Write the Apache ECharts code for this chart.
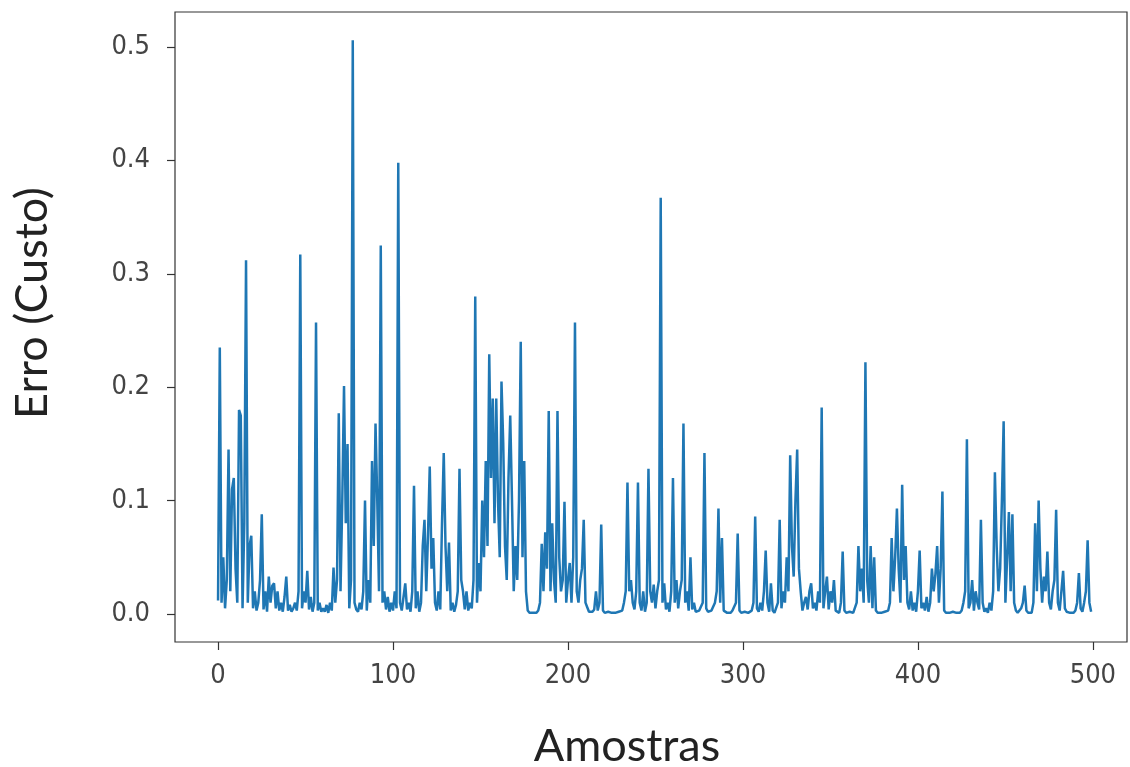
<!DOCTYPE html>
<html>
<head>
<meta charset="utf-8">
<script src="https://cdn.jsdelivr.net/npm/echarts@6/dist/echarts.min.js"></script>
<style>
  html, body { margin: 0; padding: 0; background: #fff; }
  #chart { width: 1130px; height: 767px; }
</style>
</head>
<body>
<div id="chart"></div>
<script>
// erro (custo) por amostra (500 amostras)
var erro = [
  0.012, 0.235, 0.010, 0.050, 0.005, 0.030, 0.145, 0.020, 0.110, 0.120, 0.040, 0.010, 0.180, 0.175, 0.005, 0.080, 0.312, 0.010, 0.060, 0.069,
  0.005, 0.020, 0.003, 0.010, 0.030, 0.088, 0.004, 0.020, 0.002, 0.033, 0.010, 0.025, 0.027, 0.005, 0.020, 0.003, 0.010, 0.002, 0.015, 0.033,
  0.003, 0.008, 0.002, 0.005, 0.010, 0.003, 0.020, 0.317, 0.005, 0.020, 0.010, 0.038, 0.004, 0.015, 0.002, 0.010, 0.257, 0.003, 0.010, 0.002,
  0.005, 0.002, 0.008, 0.001, 0.010, 0.003, 0.041, 0.010, 0.030, 0.177, 0.020, 0.100, 0.201, 0.080, 0.150, 0.005, 0.030, 0.506, 0.010, 0.004,
  0.002, 0.010, 0.004, 0.020, 0.100, 0.003, 0.030, 0.010, 0.135, 0.060, 0.168, 0.100, 0.020, 0.325, 0.010, 0.020, 0.004, 0.015, 0.002, 0.010,
  0.003, 0.020, 0.005, 0.398, 0.010, 0.003, 0.015, 0.027, 0.004, 0.010, 0.002, 0.020, 0.113, 0.005, 0.020, 0.002, 0.010, 0.060, 0.083, 0.020,
  0.070, 0.130, 0.040, 0.067, 0.010, 0.003, 0.020, 0.004, 0.080, 0.142, 0.060, 0.020, 0.063, 0.003, 0.010, 0.002, 0.008, 0.020, 0.128, 0.030,
  0.020, 0.004, 0.020, 0.003, 0.010, 0.005, 0.030, 0.280, 0.010, 0.045, 0.020, 0.100, 0.050, 0.135, 0.060, 0.229, 0.120, 0.190, 0.080, 0.190,
  0.100, 0.050, 0.205, 0.150, 0.060, 0.030, 0.120, 0.175, 0.100, 0.020, 0.060, 0.030, 0.100, 0.240, 0.050, 0.135, 0.020, 0.003, 0.001, 0.002,
  0.001, 0.002, 0.001, 0.003, 0.010, 0.062, 0.020, 0.072, 0.040, 0.179, 0.020, 0.080, 0.030, 0.010, 0.179, 0.050, 0.020, 0.030, 0.099, 0.010,
  0.030, 0.045, 0.010, 0.050, 0.257, 0.020, 0.010, 0.030, 0.040, 0.083, 0.010, 0.006, 0.002, 0.001, 0.002, 0.004, 0.020, 0.003, 0.010, 0.079,
  0.003, 0.001, 0.001, 0.002, 0.001, 0.001, 0.002, 0.001, 0.001, 0.002, 0.001, 0.003, 0.010, 0.020, 0.116, 0.020, 0.030, 0.010, 0.004, 0.020,
  0.116, 0.010, 0.003, 0.020, 0.002, 0.010, 0.128, 0.020, 0.010, 0.026, 0.005, 0.020, 0.030, 0.367, 0.010, 0.027, 0.004, 0.010, 0.002, 0.020,
  0.120, 0.010, 0.030, 0.005, 0.020, 0.030, 0.168, 0.010, 0.020, 0.003, 0.050, 0.004, 0.010, 0.002, 0.001, 0.003, 0.002, 0.010, 0.142, 0.005,
  0.002, 0.001, 0.003, 0.002, 0.010, 0.020, 0.093, 0.010, 0.067, 0.003, 0.002, 0.001, 0.002, 0.001, 0.003, 0.002, 0.010, 0.071, 0.003, 0.001,
  0.001, 0.002, 0.001, 0.001, 0.002, 0.003, 0.010, 0.086, 0.005, 0.002, 0.010, 0.003, 0.020, 0.056, 0.010, 0.002, 0.027, 0.003, 0.001, 0.002,
  0.010, 0.083, 0.005, 0.020, 0.010, 0.050, 0.020, 0.140, 0.060, 0.033, 0.100, 0.145, 0.040, 0.020, 0.003, 0.010, 0.015, 0.004, 0.020, 0.027,
  0.005, 0.010, 0.003, 0.020, 0.010, 0.182, 0.005, 0.020, 0.033, 0.004, 0.020, 0.010, 0.030, 0.003, 0.002, 0.001, 0.010, 0.055, 0.003, 0.001,
  0.001, 0.002, 0.001, 0.001, 0.002, 0.010, 0.060, 0.020, 0.040, 0.010, 0.222, 0.030, 0.010, 0.060, 0.005, 0.050, 0.003, 0.001, 0.002, 0.001,
  0.001, 0.002, 0.001, 0.003, 0.010, 0.067, 0.020, 0.050, 0.093, 0.040, 0.010, 0.114, 0.030, 0.060, 0.010, 0.004, 0.020, 0.003, 0.010, 0.002,
  0.020, 0.056, 0.005, 0.010, 0.003, 0.015, 0.002, 0.010, 0.040, 0.020, 0.035, 0.060, 0.010, 0.040, 0.108, 0.003, 0.001, 0.002, 0.001, 0.001,
  0.002, 0.001, 0.001, 0.002, 0.001, 0.003, 0.010, 0.020, 0.154, 0.005, 0.010, 0.030, 0.003, 0.020, 0.010, 0.004, 0.083, 0.010, 0.002, 0.005,
  0.001, 0.010, 0.003, 0.020, 0.125, 0.060, 0.020, 0.040, 0.100, 0.170, 0.010, 0.050, 0.090, 0.020, 0.088, 0.010, 0.003, 0.001, 0.002, 0.005,
  0.010, 0.025, 0.003, 0.001, 0.002, 0.001, 0.010, 0.080, 0.020, 0.100, 0.040, 0.010, 0.033, 0.020, 0.055, 0.010, 0.004, 0.020, 0.030, 0.092,
  0.010, 0.003, 0.020, 0.038, 0.005, 0.002, 0.001, 0.001, 0.002, 0.001, 0.003, 0.010, 0.036, 0.005, 0.002, 0.010, 0.020, 0.065, 0.010, 0.002
];
var xTicks = [0, 100, 200, 300, 400, 500];
var yTicks = [0.0, 0.1, 0.2, 0.3, 0.4, 0.5];

var pontos = erro.map(function (v, i) { return [i, v]; });

var option = {
  animation: false,
  backgroundColor: '#fff',
  grid: {
    left: 175, right: 3, top: 12, bottom: 125,
    outerBoundsMode: 'none',
    containLabel: false,
    show: true, borderColor: '#333', borderWidth: 1.2
  },
  xAxis: {
    type: 'value',
    min: -24.6, max: 519.5,
    name: 'Amostras',
    nameLocation: 'middle',
    nameGap: 82,
    nameTextStyle: { fontFamily: 'Lato', fontSize: 45, color: '#222', padding: [0, 48, 0, 0] },
    axisLine: { show: false, onZero: false },
    splitLine: { show: false },
    axisTick: { show: true, customValues: xTicks, length: 8, lineStyle: { color: '#333', width: 1.2 } },
    axisLabel: {
      customValues: xTicks, margin: 20,
      fontFamily: 'DejaVu Sans Condensed', fontSize: 27, color: '#444'
    }
  },
  yAxis: {
    type: 'value',
    min: -0.0247, max: 0.5309,
    name: 'Erro (Custo)',
    nameLocation: 'middle',
    nameRotate: 90,
    nameGap: 120,
    nameTextStyle: { fontFamily: 'Lato', fontSize: 45, color: '#222', padding: [0, 0, 0, 48] },
    axisLine: { show: false, onZero: false },
    splitLine: { show: false },
    axisTick: { show: true, customValues: yTicks, length: 8, lineStyle: { color: '#333', width: 1.2 } },
    axisLabel: {
      customValues: yTicks, margin: 25,
      fontFamily: 'DejaVu Sans Condensed', fontSize: 27, color: '#444',
      formatter: function (v) { return v.toFixed(1); }
    }
  },
  series: [{
    type: 'line',
    data: pontos,
    showSymbol: false,
    lineStyle: { color: '#1f77b4', width: 2.5 }
  }]
};

var myChart = echarts.init(document.getElementById('chart'));
myChart.setOption(option);
</script>
</body>
</html>
